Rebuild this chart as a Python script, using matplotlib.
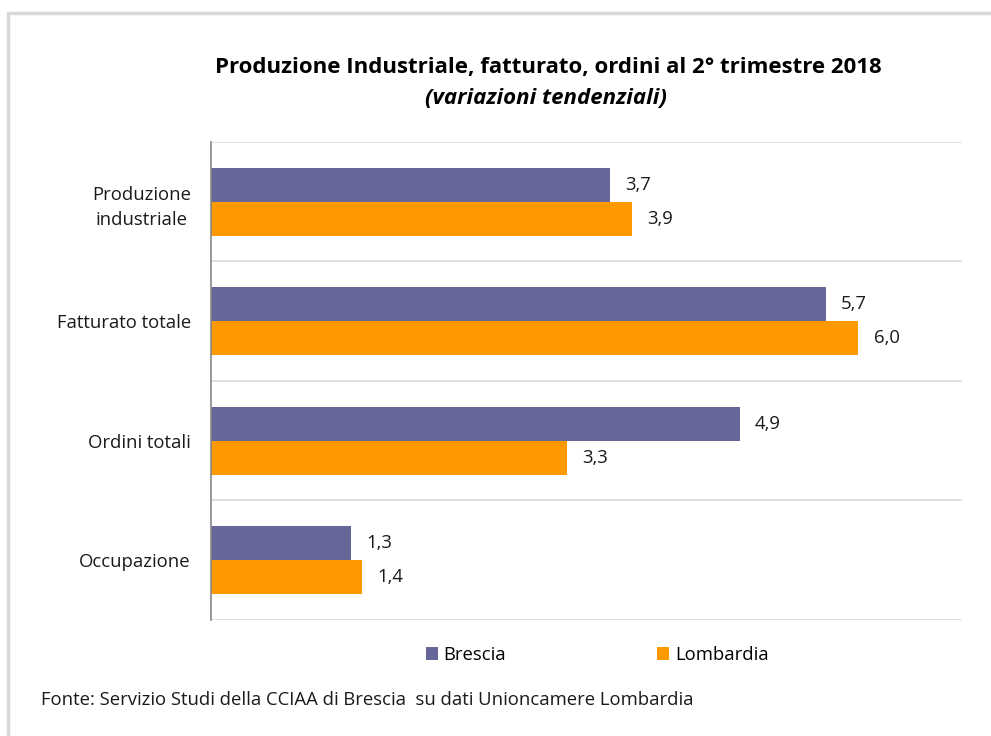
import matplotlib
matplotlib.use("Agg")
import matplotlib.pyplot as plt
from matplotlib.patches import Rectangle
import numpy as np

plt.rcParams['font.family'] = ['Open Sans', 'DejaVu Sans']

categories = ["Produzione\nindustriale", "Fatturato totale", "Ordini totali", "Occupazione"]
brescia = [3.7, 5.7, 4.9, 1.3]
lombardia = [3.9, 6.0, 3.3, 1.4]
series_names = ["Brescia", "Lombardia"]
colors = ["#666699", "#FF9900"]

W, H = 991, 736
fig = plt.figure(figsize=(W/100, H/100), dpi=100)

# outer border
fig.patches.append(Rectangle((8/W, -0.01), 1.0, 1 - 13/H + 0.01, transform=fig.transFigure,
                             fill=False, edgecolor="#d9d9d9", linewidth=2.5, zorder=0))

ax = fig.add_axes([211/W, 1 - 620/H, (962-211)/W, (620-142)/H])
y = np.arange(len(categories))
h = 0.286
ax.barh(y - h/2, brescia, height=h, color=colors[0], label=series_names[0], zorder=3)
ax.barh(y + h/2, lombardia, height=h, color=colors[1], label=series_names[1], zorder=3)

fs = 13.3
for i, (b, l) in enumerate(zip(brescia, lombardia)):
    ax.text(b + 0.14, i - h/2, f"{b:.1f}".replace(".", ","), va="center", ha="left", fontsize=fs, color="#1a1a1a")
    ax.text(l + 0.14, i + h/2, f"{l:.1f}".replace(".", ","), va="center", ha="left", fontsize=fs, color="#1a1a1a")

ax.set_xlim(0, 6.96)
ax.set_ylim(3.5, -0.5)
ax.set_xticks([])
ax.set_yticks(y)
ax.set_yticklabels(categories, fontsize=fs, color="#1a1a1a", multialignment="center", linespacing=1.5)
ax.tick_params(axis="y", length=0, pad=14.5)
for yy in np.arange(-0.5, len(categories), 1.0):
    ax.axhline(yy, color="#d9d9d9", linewidth=1.2, zorder=1)
for s in ["top", "right", "bottom"]:
    ax.spines[s].set_visible(False)
ax.spines["left"].set_color("#888888")
ax.spines["left"].set_linewidth(1.2)
ax.spines["left"].set_zorder(4)

fig.text(548/W, 1 - 67/H, "Produzione Industriale, fatturato, ordini al 2° trimestre 2018",
         ha="center", va="center", fontsize=16, fontweight="bold", color="black")
fig.text(546/W, 1 - 99/H, "(variazioni tendenziali)", ha="center", va="center",
         fontsize=16, fontweight="bold", style="italic", color="black")

leg = fig.legend(loc="center", bbox_to_anchor=(597/W, 1 - 655/H), ncol=2, frameon=False,
                 fontsize=fs, handlelength=0.65, handleheight=0.65, handletextpad=0.3,
                 columnspacing=8.2)

fig.text(41/W, 1 - 700/H, "Fonte: Servizio Studi della CCIAA di Brescia  su dati Unioncamere Lombardia",
         ha="left", va="center", fontsize=fs, color="#1a1a1a")

fig.savefig("out.png", dpi=100)
